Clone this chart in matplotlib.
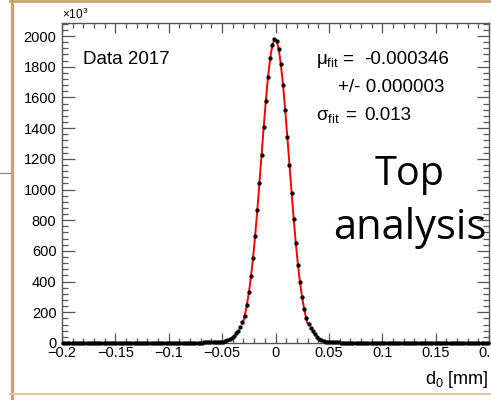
import numpy as np
import matplotlib
matplotlib.use("Agg")
import matplotlib.pyplot as plt
from matplotlib.ticker import MultipleLocator, FuncFormatter
from matplotlib.lines import Line2D

plt.rcParams['font.family'] = ['Liberation Sans', 'DejaVu Sans']
plt.rcParams['mathtext.fontset'] = 'custom'
plt.rcParams['mathtext.rm'] = 'Liberation Sans'
plt.rcParams['mathtext.it'] = 'Liberation Sans'

# ---- data (counts in units of 10^3 per 0.002 mm bin) ----
x_range = (-0.2, 0.2)
n_bins = 200
far_left = [0.3, 0.3, 0.3, 0.3, 0.3, 0.4, 0.4, 0.4, 0.4, 0.4, 0.4, 0.5, 0.5, 0.5, 0.5, 0.5, 0.6, 0.6, 0.6, 0.6,
            0.6, 0.7, 0.7, 0.7, 0.7, 0.8, 0.8, 0.8, 0.9, 0.9, 0.9, 1.0, 1.0, 1.0, 1.1, 1.1, 1.2, 1.2, 1.2, 1.3,
            1.3, 1.4, 1.4, 1.5, 1.5, 1.6, 1.6, 1.7, 1.7, 1.8, 1.8, 1.9, 2.0, 2.0, 2.1, 2.2, 2.3, 2.4, 2.5, 2.6,
            2.7, 2.8, 2.9, 3.0, 3.1, 3.2, 3.4, 3.5, 3.7, 3.9, 4.2]
tail_left = [4.6, 5.2, 6.2, 7.5, 9.5, 13, 18, 25, 34, 46, 62, 80, 104, 135]
core_left = [178, 245, 330, 436, 557, 700, 866, 1040, 1224, 1406, 1578, 1733, 1856, 1940, 1978]
core_right = [1970, 1918, 1818, 1680, 1520, 1342, 1160, 976, 805, 650, 510, 395, 298, 222, 160]
tail_right = [125, 98, 75, 56, 40, 28, 19, 13, 9.3, 7.0, 5.5, 4.6, 4.0, 3.6]
far_right = [3.3, 3.1, 2.9, 2.8, 2.7, 2.6, 2.5, 2.4, 2.3, 2.2,
             2.1, 2.0, 2.0, 1.9, 1.8, 1.8, 1.7, 1.7, 1.6, 1.6,
             1.5, 1.5, 1.4, 1.4, 1.3, 1.3, 1.3, 1.2, 1.2, 1.1,
             1.1, 1.1, 1.0, 1.0, 1.0, 0.9, 0.9, 0.9, 0.9, 0.8,
             0.8, 0.8, 0.8, 0.7, 0.7, 0.7, 0.7, 0.7, 0.6, 0.6,
             0.6, 0.6, 0.6, 0.5, 0.5, 0.5, 0.5, 0.5, 0.5, 0.4,
             0.4, 0.4, 0.4, 0.4, 0.4, 0.4, 0.3, 0.3, 0.3, 0.3, 0.3]
counts = np.array(far_left + tail_left + core_left + core_right + tail_right + far_right)

# fit parameters
fit_mu = -0.000346
fit_sigma = 0.013
fit_amp = 1975.0
fit_range = (-0.031, 0.030)

edges = np.linspace(x_range[0], x_range[1], n_bins + 1)
centers = 0.5 * (edges[:-1] + edges[1:])

fig = plt.figure(figsize=(4.91, 4.00), dpi=100)
W, H = 491, 400
ax = fig.add_axes([62 / W, 1 - 343 / H, 427 / W, 320 / H])

xf = np.linspace(fit_range[0], fit_range[1], 400)
yf = fit_amp * np.exp(-0.5 * ((xf - fit_mu) / fit_sigma) ** 2)
ax.plot(xf, yf, color='#ff0000', lw=1.4, zorder=2)
ax.errorbar(centers, counts, xerr=0.001, fmt='o', color='black', ms=3.1, mew=0,
            elinewidth=0.6, capsize=0, zorder=3, clip_on=False)

ax.set_xlim(*x_range)
ax.set_ylim(0, 2085)
ax.xaxis.set_major_locator(MultipleLocator(0.05))
ax.xaxis.set_minor_locator(MultipleLocator(0.01))
ax.yaxis.set_major_locator(MultipleLocator(200))
ax.yaxis.set_minor_locator(MultipleLocator(40))

def xfmt(v, pos):
    s = f"{v:.2f}".rstrip('0').rstrip('.')
    if s in ('-0', '0'):
        return '0'
    return s.replace('-', '\u2212')
ax.xaxis.set_major_formatter(FuncFormatter(xfmt))
ax.yaxis.set_major_formatter(FuncFormatter(lambda v, p: f"{int(round(v))}"))

fc = '#555555'
for s in ax.spines.values():
    s.set_color(fc)
    s.set_linewidth(1.0)
ax.tick_params(which='both', direction='in', top=True, right=True, colors=fc,
               labelcolor='black', labelsize=10.5, width=0.9)
ax.tick_params(axis='y', which='major', length=9, pad=4)
ax.tick_params(axis='y', which='minor', length=4.5)
ax.tick_params(axis='x', which='major', length=7, pad=2)
ax.tick_params(axis='x', which='minor', length=3.5)

# texts
fig.text(62 / W, 1 - 19 / H, '×10$^{3}$', fontsize=8.5, ha='left', va='baseline')
fig.text(83 / W, 1 - 64 / H, 'Data 2017', fontsize=13.5, ha='left', va='baseline')
fig.text(316 / W, 1 - 64 / H, 'μ$_{\\mathregular{fit}}$', fontsize=13.5, ha='left', va='baseline')
fig.text(342 / W, 1 - 64 / H, '=', fontsize=13.5, ha='left', va='baseline')
fig.text(364 / W, 1 - 64 / H, '-0.000346', fontsize=13.5, ha='left', va='baseline')
fig.text(338 / W, 1 - 92.5 / H, '+/- 0.000003', fontsize=13.5, ha='left', va='baseline')
fig.text(316 / W, 1 - 120 / H, 'σ$_{\\mathregular{fit}}$', fontsize=13.5, ha='left', va='baseline')
fig.text(345 / W, 1 - 120 / H, '=', fontsize=13.5, ha='left', va='baseline')
fig.text(364 / W, 1 - 120 / H, '0.013', fontsize=13.5, ha='left', va='baseline')
fig.text(410 / W, 1 - 175 / H, 'Top', fontsize=28.5, ha='center', va='center',
         family=['Open Sans', 'DejaVu Sans'])
fig.text(410 / W, 1 - 228 / H, 'analysis', fontsize=30, ha='center', va='center',
         family=['Open Sans', 'DejaVu Sans'])
fig.text(488 / W, 1 - 384 / H, 'd$_{\\mathregular{0}}$ [mm]', fontsize=13, ha='right', va='baseline')

# slide decorations
tan = '#c9a46a'
fig.add_artist(Line2D([11.5 / W, 11.5 / W], [0, 1], transform=fig.transFigure, color=tan, lw=2.4))
fig.add_artist(Line2D([10 / W, 1], [1 - 1.2 / H, 1 - 1.2 / H], transform=fig.transFigure, color=tan, lw=2.0))
fig.add_artist(Line2D([10 / W, 1], [1 - 393.5 / H, 1 - 393.5 / H], transform=fig.transFigure, color='#ddc9a3', lw=1.5))
fig.add_artist(Line2D([0, 10 / W], [1 - 173 / H, 1 - 173 / H], transform=fig.transFigure, color='#888888', lw=0.9))

fig.savefig('out.png', dpi=100)
